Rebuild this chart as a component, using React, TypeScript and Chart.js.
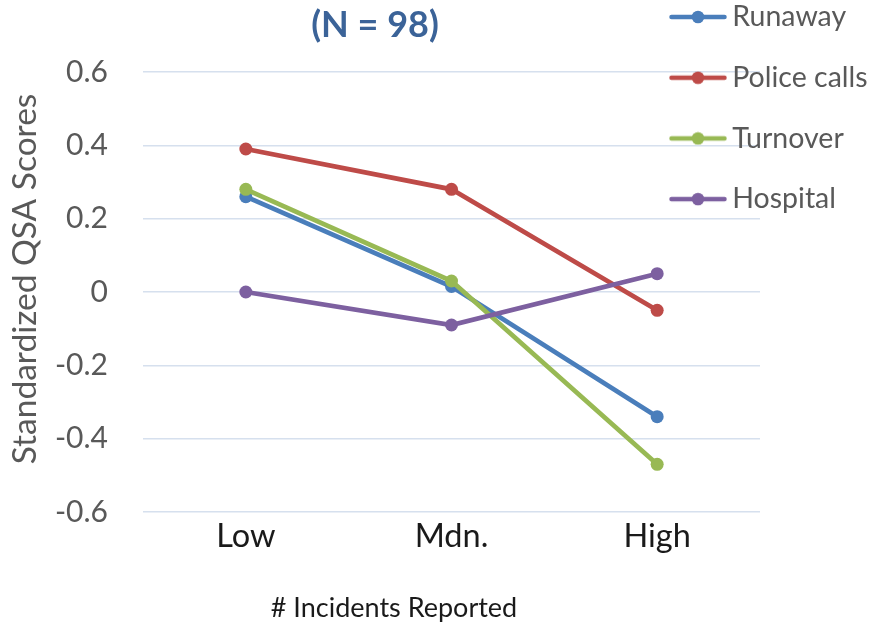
import React, { useEffect, useRef } from 'react';
import { Chart, registerables } from 'chart.js';

Chart.register(...registerables);

const categories = ['Low', 'Mdn.', 'High'];
const runaway = [0.26, 0.015, -0.34];
const policeCalls = [0.39, 0.28, -0.05];
const turnover = [0.28, 0.03, -0.47];
const hospital = [0.0, -0.09, 0.05];
const seriesNames = ['Runaway', 'Police calls', 'Turnover', 'Hospital'];
const seriesValues = [runaway, policeCalls, turnover, hospital];
const seriesColors = ['#4a7ebb', '#be4b48', '#98b954', '#7d60a0'];
const yTickValues = [-0.6, -0.4, -0.2, 0, 0.2, 0.4, 0.6];
const titleText = '(N = 98)';
const xTitleText = '# Incidents Reported';
const yTitleText = 'Standardized QSA Scores';

const FONT = 'Lato';
const LEGEND_FONT = 28.5;
const LEGEND_PAD = 32.2;

function makeSwatch(color: string): HTMLCanvasElement {
  const c = document.createElement('canvas');
  c.width = 58;
  c.height = 14;
  const g = c.getContext('2d')!;
  g.strokeStyle = color;
  g.lineWidth = 4.5;
  g.lineCap = 'round';
  g.beginPath();
  g.moveTo(2.5, 7);
  g.lineTo(55.5, 7);
  g.stroke();
  g.fillStyle = color;
  g.beginPath();
  g.arc(29, 7, 6.3, 0, Math.PI * 2);
  g.fill();
  return c;
}

const placementPlugin = {
  id: 'placement',
  afterLayout(chart: any) {
    const lg = chart.legend;
    if (lg) {
      lg.left = 678 - LEGEND_PAD;
      lg.top = 17 - LEGEND_PAD - LEGEND_FONT / 2;
      lg.right = 875;
      lg.bottom = 628;
    }
    const t = chart.titleBlock;
    if (t) {
      t.left = 0;
      t.right = 750;
    }
    const xs = chart.scales.x;
    if (xs) {
      xs.left = 26;
      xs.right = 762;
    }
    const ys = chart.scales.y;
    if (ys) {
      ys.top = 46;
      ys.bottom = 512;
    }
  },
};

export default function App() {
  const ref = useRef<HTMLCanvasElement | null>(null);

  useEffect(() => {
    if (!ref.current) return;
    const swatches = seriesColors.map(makeSwatch);
    const chart = new Chart(ref.current, {
      type: 'line',
      data: {
        labels: categories,
        datasets: seriesNames.map((name, i) => ({
          label: name,
          data: seriesValues[i],
          borderColor: seriesColors[i],
          backgroundColor: seriesColors[i],
          pointBackgroundColor: seriesColors[i],
          pointBorderWidth: 0,
          pointRadius: 6.5,
          borderWidth: 4.7,
          tension: 0,
          fill: false,
          order: seriesNames.length - 1 - i,
        })),
      },
      options: {
        animation: false,
        responsive: true,
        maintainAspectRatio: false,
        layout: { padding: { left: 0, right: 115, top: 0, bottom: 0 } },
        plugins: {
          tooltip: { enabled: false },
          title: {
            display: true,
            text: titleText,
            color: '#3b6398',
            font: { family: FONT, size: 36, weight: 'bold' },
            padding: { top: 3.4, bottom: 25.4 },
          },
          legend: {
            display: true,
            position: 'chartArea',
            align: 'start',
            labels: {
              color: '#595959',
              font: { family: FONT, size: LEGEND_FONT },
              padding: LEGEND_PAD,
              usePointStyle: true,
              pointStyleWidth: 40,
              sort: (a: any, b: any) => a.datasetIndex - b.datasetIndex,
              generateLabels: (ch: any) => {
                const items = (Chart as any).defaults.plugins.legend.labels.generateLabels(ch);
                return items.map((it: any) => ({ ...it, pointStyle: swatches[it.datasetIndex] }));
              },
            },
          },
        },
        scales: {
          x: {
            type: 'category',
            offset: true,
            afterFit: (s: any) => {
              s.height = 116;
            },
            grid: { display: false, drawTicks: false },
            border: { display: false },
            ticks: {
              color: '#1a1a1a',
              font: { family: FONT, size: 32.5 },
              padding: 5.5,
              maxRotation: 0,
            },
            title: {
              display: true,
              text: xTitleText,
              color: '#1a1a1a',
              font: { family: FONT, size: 27 },
              padding: { top: 0, bottom: 3.8 },
            },
          },
          y: {
            min: -0.6,
            max: 0.6,
            afterFit: (s: any) => {
              s.width = 143;
            },
            afterBuildTicks: (s: any) => {
              s.ticks = yTickValues.map((v) => ({ value: v }));
            },
            grid: { color: '#d6e0ee', lineWidth: 1.5, drawTicks: false },
            border: { display: false },
            ticks: {
              color: '#595959',
              font: { family: FONT, size: 30 },
              padding: 35,
              callback: (v: any) => {
                const n = Number(v);
                const m = yTickValues.find((t) => Math.abs(t - n) < 1e-9);
                return m === undefined ? '' : String(m);
              },
            },
            title: {
              display: true,
              text: yTitleText,
              color: '#595959',
              font: { family: FONT, size: 33.5 },
              padding: { top: 5, bottom: 0 },
            },
          },
        },
      },
      plugins: [placementPlugin],
    } as any);
    return () => chart.destroy();
  }, []);

  return (
    <div style={{ position: 'absolute', left: 0, top: 0, width: 875, height: 628 }}>
      <canvas ref={ref} />
    </div>
  );
}
